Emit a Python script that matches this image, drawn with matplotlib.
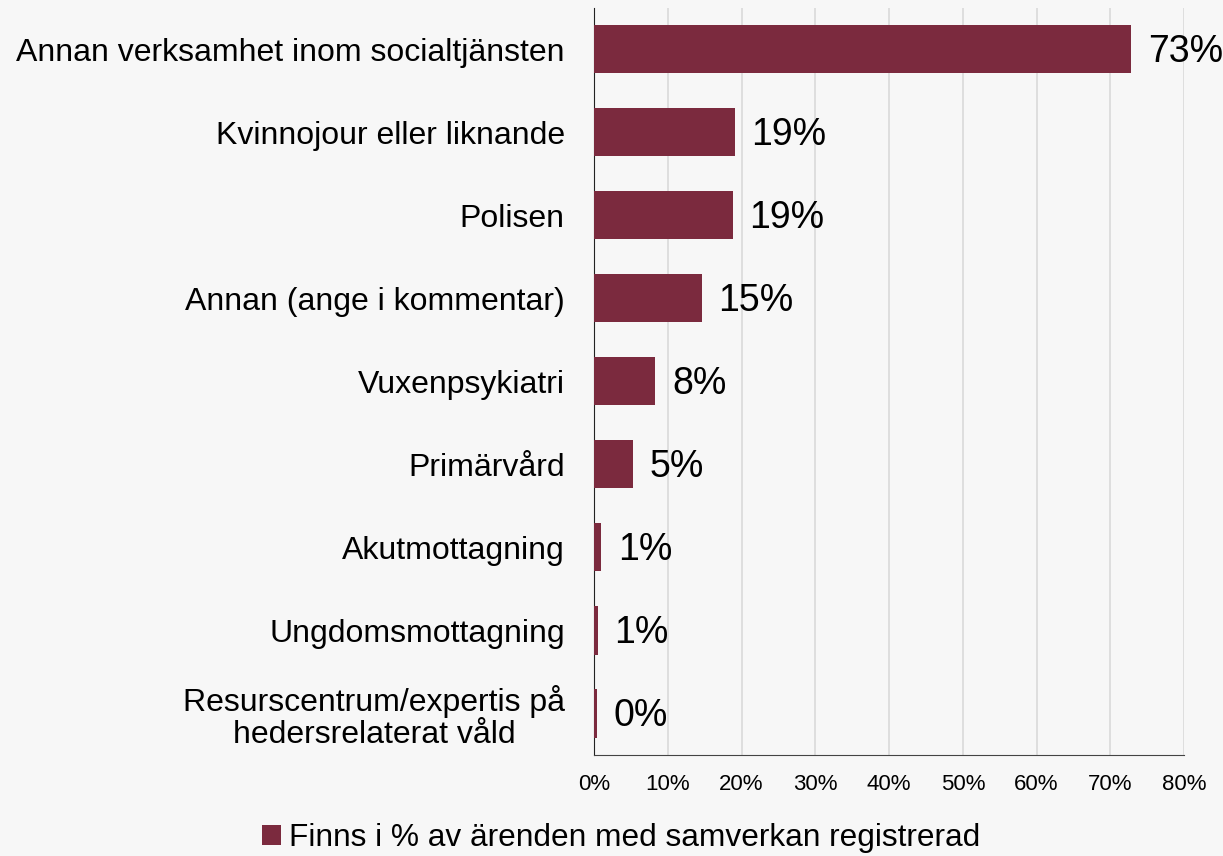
import matplotlib.pyplot as plt
from matplotlib.ticker import FuncFormatter

plt.rcParams['font.family'] = ['Liberation Sans', 'DejaVu Sans']

categories = [
    'Annan verksamhet inom socialtjänsten',
    'Kvinnojour eller liknande',
    'Polisen',
    'Annan (ange i kommentar)',
    'Vuxenpsykiatri',
    'Primärvård',
    'Akutmottagning',
    'Ungdomsmottagning',
    'Resurscentrum/expertis på\nhedersrelaterat våld',
]
values = [72.8, 19.1, 18.8, 14.6, 8.3, 5.3, 0.95, 0.5, 0.4]
labels = ['73%', '19%', '19%', '15%', '8%', '5%', '1%', '1%', '0%']
series_name = 'Finns i % av ärenden med samverkan registrerad'

bar_color = '#7b2a3e'
bg = '#f7f7f7'

fig = plt.figure(figsize=(12.23, 8.56), dpi=100, facecolor=bg)
ax = fig.add_axes([0.4857, 0.118, 0.4825, 0.873], facecolor=bg)

y = list(range(len(categories)))
ax.barh(y, values, height=0.58, color=bar_color, label=series_name, zorder=3)
ax.set_ylim(len(categories) - 0.5, -0.5)

for yi, v, lab in zip(y, values, labels):
    ax.annotate(lab, (v, yi), xytext=(12, -2), textcoords='offset points',
                va='center', ha='left', fontsize=27, color='black', zorder=4)

ax.set_xlim(0, 80)
ax.set_xticks(range(0, 81, 10))
ax.xaxis.set_major_formatter(FuncFormatter(lambda x, p: f'{int(x)}%'))
ax.set_yticks(y)
ax.set_yticklabels(categories, fontsize=23, multialignment='center', linespacing=1.05)
ax.tick_params(axis='x', length=0, labelsize=16, pad=14)
ax.tick_params(axis='y', length=0, pad=21)
ax.grid(axis='x', color='#d9d9d9', linewidth=1.2, zorder=0)

for s in ['top', 'right']:
    ax.spines[s].set_visible(False)
ax.spines['left'].set_color('#222222')
ax.spines['bottom'].set_color('#444444')

fig.legend(loc='lower center', bbox_to_anchor=(0.508, -0.03), frameon=False,
           fontsize=22.8, handlelength=0.6, handleheight=0.6, handletextpad=0.25)

fig.savefig('out.png', dpi=100, facecolor=bg)
